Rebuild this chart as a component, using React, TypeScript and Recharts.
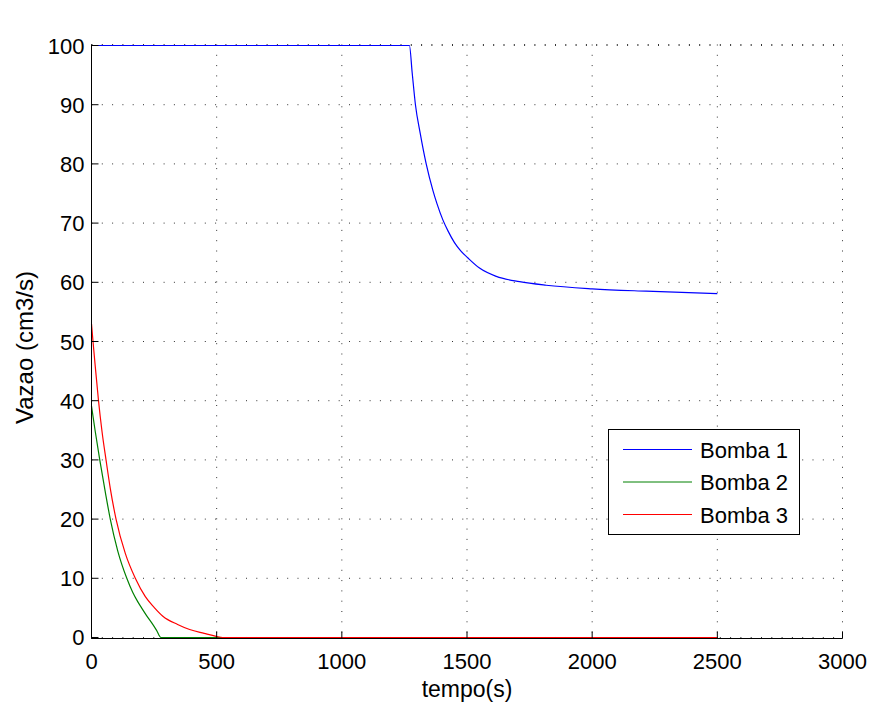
import React from 'react';
import { LineChart, Line, XAxis, YAxis, CartesianGrid, Legend } from 'recharts';

const FONT = '"Liberation Sans", Arial, Helvetica, sans-serif';

// Bomba 1: saturada em 100 até ~1270 s, depois decai para ~58 cm3/s
const tempoBomba1 = [0, 1270, 1281, 1294, 1313, 1337, 1364, 1380, 1404, 1425, 1450, 1475, 1504, 1550, 1617, 1710, 1816, 2000, 2216, 2500];
const vazaoBomba1 = [100, 100, 95.4, 90, 85.2, 80, 75.5, 73.3, 70.5, 68.6, 66.7, 65.3, 64.1, 62.4, 61.0, 60.1, 59.5, 58.9, 58.5, 58.1];

// Bomba 2
const tempoBomba2 = [0, 15, 33, 55, 75, 105, 141, 165, 184, 200, 220, 240, 260, 277, 2500];
const vazaoBomba2 = [39.1, 34.8, 30, 24.6, 20, 14.6, 10, 7.6, 6.1, 5.0, 3.7, 2.5, 1.2, 0, 0];

// Bomba 3
const tempoBomba3 = [0, 6, 15, 28, 42, 58, 75, 98, 135, 175, 215, 250, 285, 344, 392, 450, 498, 524, 2500];
const vazaoBomba3 = [53, 50, 45.8, 40, 34.8, 30, 25.2, 20, 14.2, 10, 6.9, 5.1, 3.6, 2.2, 1.35, 0.7, 0.2, 0, 0];

const xTicks = [0, 500, 1000, 1500, 2000, 2500, 3000];
const yTicks = [0, 10, 20, 30, 40, 50, 60, 70, 80, 90, 100];
const xDomain = [0, 3000];
// one pixel of slack above 100 and below 0 keeps the curves that sit on those limits
// from being hidden under the frame
const yDomain = [-0.17, 100.17];

const toSeries = (t: number[], v: number[]) => t.map((x, i) => ({ t: x, v: v[i] }));

const series = [
  { name: 'Bomba 1', data: toSeries(tempoBomba1, vazaoBomba1), color: '#0000ff' },
  { name: 'Bomba 2', data: toSeries(tempoBomba2, vazaoBomba2), color: '#008000' },
  { name: 'Bomba 3', data: toSeries(tempoBomba3, vazaoBomba3), color: '#ff0000' },
];

const W = 872;
const H = 702;
const TICK_LEN = 7;

const BottomTick = (props: any) => {
  const { x, y, payload } = props;
  return (
    <g>
      <line x1={x} y1={y} x2={x} y2={y - TICK_LEN} stroke="#000" strokeWidth={1} />
      <text x={x} y={y + 30} textAnchor="middle" fontSize={22} fontFamily={FONT} fill="#000">
        {payload.value}
      </text>
    </g>
  );
};

const LeftTick = (props: any) => {
  const { x, y, payload } = props;
  return (
    <g>
      <line x1={x} y1={y} x2={x + TICK_LEN} y2={y} stroke="#000" strokeWidth={1} />
      <text x={x - 7} y={y + 8} textAnchor="end" fontSize={22} fontFamily={FONT} fill="#000">
        {payload.value}
      </text>
    </g>
  );
};

const TopTick = (props: any) => {
  const { x, y } = props;
  return <line x1={x} y1={y} x2={x} y2={y + TICK_LEN} stroke="#000" strokeWidth={1} />;
};

const RightTick = (props: any) => {
  const { x, y } = props;
  return <line x1={x} y1={y} x2={x - TICK_LEN} y2={y} stroke="#000" strokeWidth={1} />;
};

const XLabel = (props: any) => {
  const vb = props.viewBox || { x: 91.5, y: 638.5, width: 751, height: 63.5 };
  return (
    <text x={vb.x + vb.width / 2} y={vb.y + 58} textAnchor="middle" fontSize={23} fontFamily={FONT} fill="#000">
      tempo(s)
    </text>
  );
};

const YLabel = (props: any) => {
  const vb = props.viewBox || { x: 0, y: 44.5, width: 91.5, height: 594 };
  const cx = 33;
  const cy = vb.y + vb.height / 2 + 6;
  return (
    <text
      x={cx}
      y={cy}
      transform={`rotate(-90, ${cx}, ${cy})`}
      textAnchor="middle"
      fontSize={24}
      fontFamily={FONT}
      fill="#000"
    >
      Vazao (cm3/s)
    </text>
  );
};

const Title = (props: any) => {
  const vb = props.viewBox || { x: 91.5, y: 44.5, width: 751, height: 0 };
  return (
    <text x={vb.x + vb.width / 2} y={vb.y - 16} textAnchor="middle" fontSize={23} fontFamily={FONT} fill="#000">
      Atuacao das Bombas
    </text>
  );
};

const LegendBox = (props: any) => {
  const payload = props.payload || [];
  return (
    <svg width={192} height={106} style={{ display: 'block' }}>
      <rect x={0.5} y={0.5} width={191} height={105} fill="#fff" stroke="#000" strokeWidth={1} />
      {payload.map((entry: any, i: number) => {
        const cy = 20.5 + i * 32.5;
        return (
          <g key={entry.value}>
            <line x1={15} x2={84} y1={cy} y2={cy} stroke={entry.color} strokeWidth={1} />
            <text x={92} y={cy + 8} fontSize={22} fontFamily={FONT} fill="#000">
              {entry.value}
            </text>
          </g>
        );
      })}
    </svg>
  );
};

export default function App() {
  return (
    <div style={{ position: 'absolute', left: 0, top: 0, width: W, height: H, background: '#fff' }}>
      <LineChart width={W} height={H} margin={{ top: 44.5, right: 29.5, bottom: 0, left: 0 }}>
        <CartesianGrid stroke="#333" strokeDasharray="1 9.3" />
        <XAxis
          dataKey="t"
          type="number"
          domain={xDomain}
          ticks={xTicks}
          height={63.5}
          tickSize={0}
          tickMargin={0}
          tickLine={false}
          axisLine={{ stroke: '#000' }}
          tick={<BottomTick />}
          interval={0}
          label={XLabel}
        />
        <XAxis
          xAxisId="top"
          orientation="top"
          dataKey="t"
          type="number"
          domain={xDomain}
          ticks={xTicks}
          height={0}
          tickSize={0}
          tickMargin={0}
          tickLine={false}
          axisLine={{ stroke: '#000' }}
          tick={<TopTick />}
          interval={0}
          label={Title}
        />
        <YAxis
          type="number"
          domain={yDomain}
          allowDataOverflow
          ticks={yTicks}
          width={91.5}
          tickSize={0}
          tickMargin={0}
          tickLine={false}
          axisLine={{ stroke: '#000' }}
          tick={<LeftTick />}
          interval={0}
          label={YLabel}
        />
        <YAxis
          yAxisId="right"
          orientation="right"
          type="number"
          domain={yDomain}
          allowDataOverflow
          ticks={yTicks}
          width={0}
          tickSize={0}
          tickMargin={0}
          tickLine={false}
          axisLine={{ stroke: '#000' }}
          tick={<RightTick />}
          interval={0}
        />
        <Legend
          layout="vertical"
          align="center"
          verticalAlign="middle"
          content={LegendBox}
          wrapperStyle={{ left: 608, top: 429, width: 192, height: 106, margin: 0, lineHeight: 0 }}
        />
        {series.map((s) => (
          <Line
            key={s.name}
            data={s.data}
            dataKey="v"
            name={s.name}
            type="monotone"
            stroke={s.color}
            strokeWidth={1.2}
            dot={false}
            activeDot={false}
            isAnimationActive={false}
          />
        ))}
      </LineChart>
    </div>
  );
}
